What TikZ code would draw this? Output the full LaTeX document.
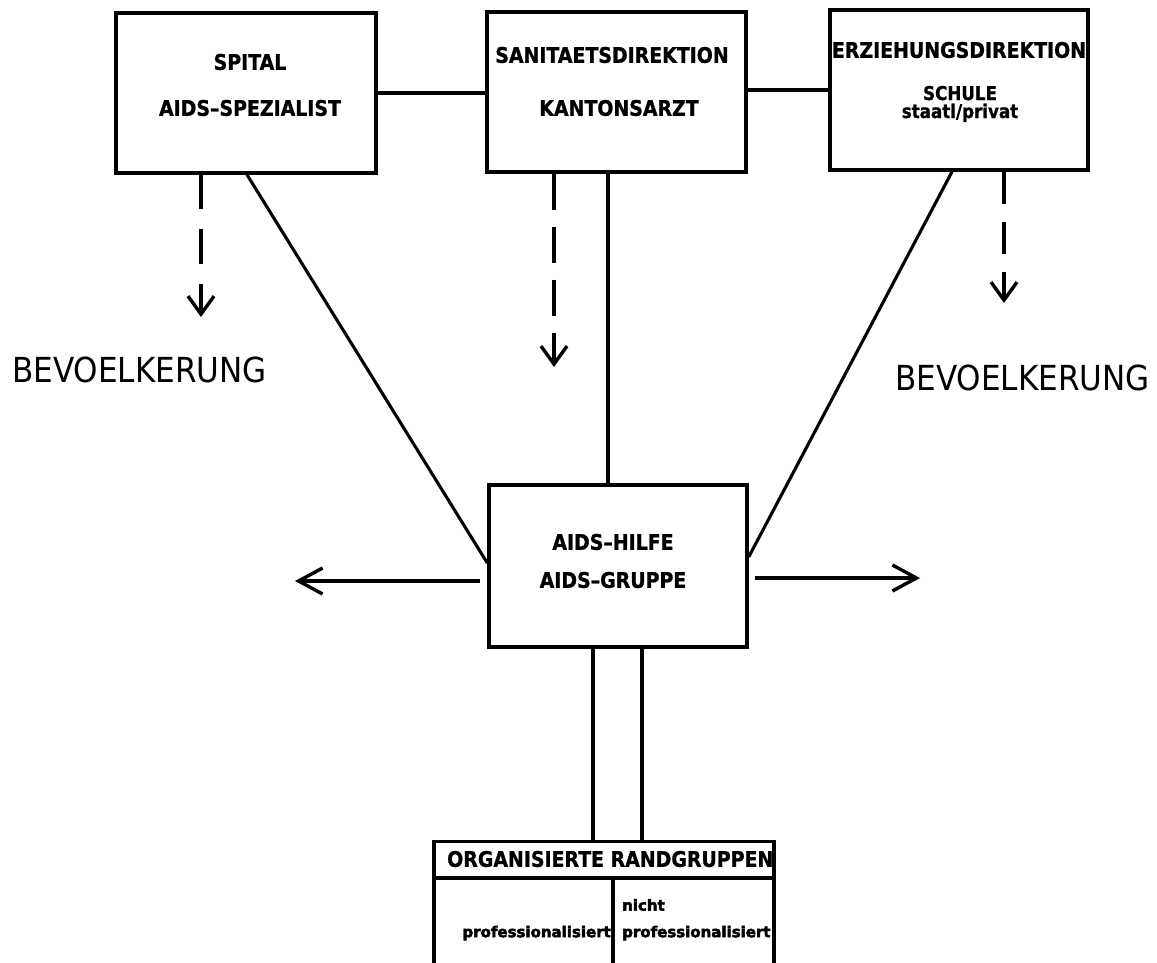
\documentclass[tikz,border=0pt]{standalone}
\usepackage{fontspec}
\setmainfont{DejaVu Sans}
\newfontfamily\heavyfont{DejaVu Sans Bold}[FakeBold=1,FakeStretch=0.88]
\newfontfamily\blobfont{DejaVu Sans Bold}[FakeBold=3]
\newfontfamily\popfont{DejaVu Sans}[FakeStretch=0.9]
\usetikzlibrary{arrows.meta}
\begin{document}
\begin{tikzpicture}[x=1pt,y=-1pt,
  boxx/.style={draw,line width=3.4pt,rectangle,inner sep=0pt},
  lbl/.style={font=\heavyfont\fontsize{21.5}{22}\selectfont,inner sep=0pt},
  lbls/.style={font=\heavyfont\fontsize{19}{20}\selectfont,inner sep=0pt,anchor=base},
  conn/.style={draw,line width=3.4pt},
  thin/.style={draw,line width=3.1pt},
  pop/.style={font=\popfont\fontsize{34.5}{36}\selectfont,inner sep=0pt,anchor=west},
  small/.style={font=\blobfont\fontsize{15}{16}\selectfont,inner sep=0pt},
  tipv/.style={-{Straight Barb[length=18pt,width=26pt]}},
  tiph/.style={-{Straight Barb[length=24pt,width=26pt]}}]
\clip (0,0) rectangle (1157,962);
\fill[white] (0,0) rectangle (1157,962);

% boxes
\node[boxx,minimum width=260pt,minimum height=160pt] (spital) at (246,93) {};
\node[boxx,minimum width=259pt,minimum height=160pt] (sanit) at (616.5,92) {};
\node[boxx,minimum width=258pt,minimum height=160pt] (erz) at (959,90) {};
\node[boxx,minimum width=258pt,minimum height=162pt] (hilfe) at (618,566) {};
\node[boxx,minimum width=340pt,minimum height=160pt,anchor=north] (org) at (604,840) {};

% box texts
\node[lbl] (t1) at (250,62) {SPITAL};
\node[lbl] (t2) at (250,108) {AIDS–SPEZIALIST};
\node[lbl] (t3) at (612,55) {SANITAETSDIREKTION};
\node[lbl] (t4) at (619,108) {KANTONSARZT};
\node[lbl] (t5) at (959,50) {ERZIEHUNGSDIREKTION};
\node[lbls] (t6) at (960,100) {SCHULE};
\node[lbls] (t7) at (960,118) {staatl/privat};
\node[lbl] (t8) at (613,542) {AIDS–HILFE};
\node[lbl] (t9) at (613,580) {AIDS–GRUPPE};
\node[font=\heavyfont\fontsize{21.5}{22}\selectfont,inner sep=0pt,anchor=west] (t10) at (447,859) {ORGANISIERTE RANDGRUPPEN};
\node[small,anchor=east] (t11) at (611,933) {professionalisiert};
\node[small,anchor=west] (t12) at (622,905) {nicht};
\node[small,anchor=west] (t13) at (622,933) {professionalisiert};

% population labels
\node[pop] (bevl) at (12,370) {BEVOELKERUNG};
\node[pop] (bevr) at (895,378) {BEVOELKERUNG};

% helper coordinates
\coordinate (d1) at (201,317);
\coordinate (d2) at (554,367);
\coordinate (d3) at (1004,303);
\coordinate (vs) at (608,300);
\coordinate (s1) at (247,0);
\coordinate (s3) at (952,0);
\coordinate (h1) at (0,563);
\coordinate (h3) at (0,557);
\coordinate (la) at (295,581);
\coordinate (ra) at (920,578);
\coordinate (v1) at (593,700);
\coordinate (v2) at (642,700);
\coordinate (hd) at (0,878);
\coordinate (dv) at (613,1000);

% horizontal links between top boxes
\path[conn] (spital.east) -- (spital.east -| sanit.west);
\path[conn] (sanit.east |- erz.west) -- (erz.west);

% dashed arrows to population
\path[conn,tipv,dash pattern=on 34.7pt off 20pt] (spital.south -| d1) -- (d1);
\path[conn,tipv,dash pattern=on 36pt off 17pt] (sanit.south -| d2) -- (d2);
\path[conn,tipv,dash pattern=on 32.3pt off 18pt] (erz.south -| d3) -- (d3);

% links to AIDS-HILFE
\path[thin] (sanit.south -| vs) -- (hilfe.north -| vs);
\path[thin] (spital.south -| s1) -- (hilfe.west |- h1);
\path[thin] (erz.south -| s3) -- (hilfe.east |- h3);

% side arrows
\path[conn,tiph] ([xshift=-7pt]hilfe.west |- la) -- (la);
\path[conn,tiph] ([xshift=6pt]hilfe.east |- ra) -- (ra);

% double line to organised groups
\path[thin] (hilfe.south -| v1) -- (org.north -| v1);
\path[thin] (hilfe.south -| v2) -- (org.north -| v2);

% header rule and divider in lower box
\path[conn] (org.west |- hd) -- (org.east |- hd);
\path[thin] (org.north -| dv) ++(0,38) -- (dv);
\end{tikzpicture}
\end{document}
